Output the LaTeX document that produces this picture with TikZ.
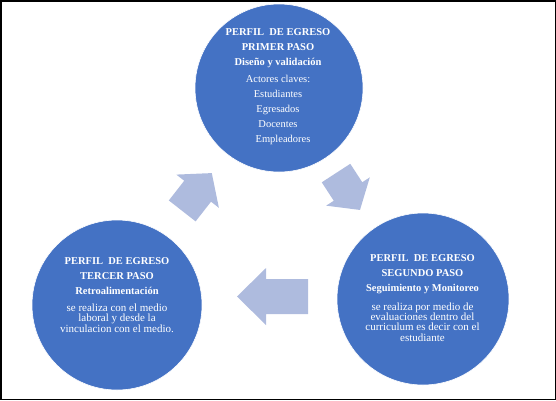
\documentclass[tikz,border=0pt]{standalone}
\usepackage{fontspec}
\setmainfont{Liberation Serif}
\definecolor{circblue}{HTML}{4472C4}
\definecolor{arrowblue}{RGB}{174,187,222}
\tikzset{
  stepcircle/.style={circle, fill=circblue, draw=white, line width=0.6pt, inner sep=0pt, minimum size=#1},
  titletext/.style={text=white, align=center, inner sep=0pt, font=\fontsize{10.5}{15}\selectfont\bfseries},
  bodytext/.style={text=white, align=center, inner sep=0pt, font=\fontsize{10.5}{15}\selectfont},
  smalltext/.style={text=white, align=center, inner sep=0pt, font=\fontsize{11}{10.3}\selectfont},
  cyclearrow/.style={fill=arrowblue},
  frame/.style={draw=black, line width=1.5pt}
}
\begin{document}
\begin{tikzpicture}[x=1pt,y=-1pt]
\useasboundingbox (0,0) rectangle (556,400);
\draw[frame] (0.75,0.75) rectangle (555.25,399.25);

% circles
\node[stepcircle=168pt] (c1) at (279,88) {};
\node[stepcircle=172pt] (c2) at (423,299) {};
\node[stepcircle=170pt] (c3) at (117,305) {};

% arrows
\fill[cyclearrow, shift={(197,192)}, rotate=52]
  (-24,-17) -- (1,-17) -- (1,-27) -- (24,0) -- (1,27) -- (1,17) -- (-24,17) -- cycle;
\fill[cyclearrow, shift={(348,191.5)}, rotate=-57]
  (-22,-17) -- (0,-17) -- (0,-26) -- (22,0) -- (0,26) -- (0,17) -- (-22,17) -- cycle;
\fill[cyclearrow, shift={(272.5,296.5)}, rotate=180]
  (-35.5,-17.5) -- (6.5,-17.5) -- (6.5,-28.5) -- (35.5,0) -- (6.5,28.5) -- (6.5,17.5) -- (-35.5,17.5) -- cycle;

% texts, top circle
\node[titletext] (t1) at (278,48) {PERFIL~~DE EGRESO\\PRIMER PASO\\Diseño y validación};
\node[bodytext] (b1) at (278,110) {Actores claves:\\Estudiantes\\Egresados\\Docentes\\\hspace*{10pt}Empleadores};

% right circle
\node[titletext] (t2) at (422.5,274) {PERFIL~~DE EGRESO\\SEGUNDO PASO\\Seguimiento y Monitoreo};
\node[smalltext] (b2) at (422.5,322) {se realiza por medio de\\evaluaciones dentro del\\curriculum es decir con el\\estudiante};

% left circle
\node[titletext] (t3) at (117,276) {PERFIL~~DE EGRESO\\TERCER PASO\\Retroalimentación};
\node[smalltext] (b3) at (117,318) {se realiza con el medio\\laboral y desde la\\vinculacion con el medio.};
\end{tikzpicture}
\end{document}
